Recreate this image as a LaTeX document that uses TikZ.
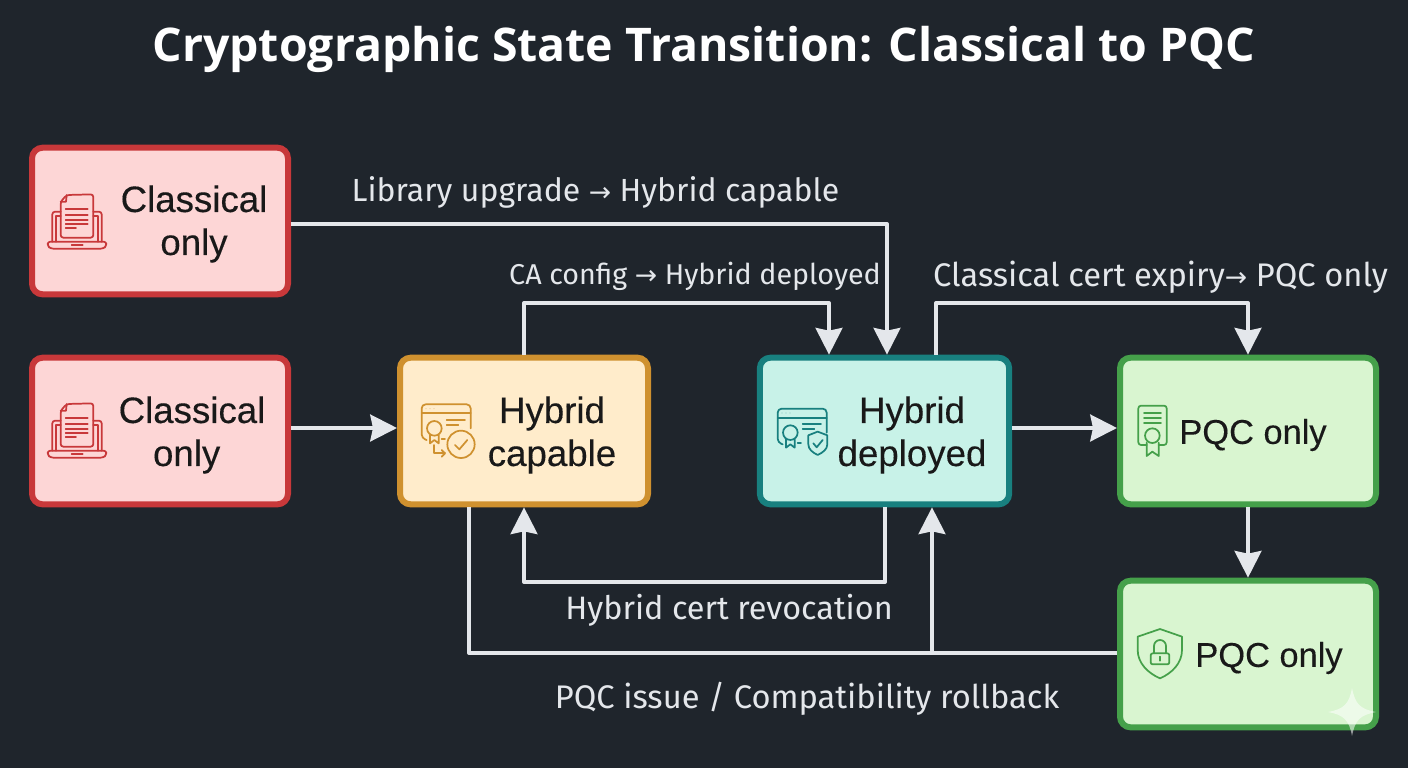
\documentclass[tikz,border=0pt]{standalone}
\usepackage{fontspec}
\setmainfont{Liberation Sans}[FakeBold=0.25]
\newfontfamily\labelfont{Fira Sans}
\newfontfamily\titlefont{Open Sans}
\newfontfamily\arrowfont{DejaVu Sans}
\newcommand{\toarr}{{\arrowfont\fontsize{20}{20}\selectfont →}}
\usetikzlibrary{arrows.meta}

\definecolor{pagebg}{HTML}{1F252C}
\definecolor{flowcol}{HTML}{E4E7EB}
\definecolor{redline}{HTML}{C8383A}
\definecolor{redfill}{HTML}{FDD6D6}
\definecolor{amberline}{HTML}{CF912F}
\definecolor{amberfill}{HTML}{FFECCB}
\definecolor{tealline}{HTML}{18807F}
\definecolor{tealfill}{HTML}{C8F2E8}
\definecolor{greenline}{HTML}{45A04A}
\definecolor{greenfill}{HTML}{D9F5D0}

\newcommand{\certwindow}{
  \draw[icon, rounded corners=3pt] (110,285) -- (95,280) -- (95,178) -- (242,178) -- (242,250);
  \draw[icon] (95,205) -- (242,205);
  \foreach \xx in {108,120,132}
    \fill (\xx,191) circle (0.9pt);
  \draw[icon] (170,225) -- (225,225);
  \draw[icon] (170,240) -- (205,240);
  \draw[icon] (133,250) circle (22);
  \draw[icon] (120,270) -- (120,295) -- (133,285) -- (146,295) -- (146,270);
  \draw[icon] (155,282) -- (165,282);
}

\tikzset{
  statebox/.style={draw, rectangle, rounded corners=8pt, line width=4.5pt, minimum height=110pt, text=black!90, font=\fontsize{27.5}{32.25}\selectfont, align=center},
  pqctext/.style={statebox, draw=none, font=\fontsize{25.8}{32.25}\selectfont},
  flow/.style={draw=flowcol, line width=3pt, line join=round},
  flowarr/.style={flow, -{Stealth[length=20pt,width=20pt,inset=2pt]}},
  edgelabel/.style={text=flowcol, font=\labelfont\fontsize{#1}{26}\selectfont},
  edgelabel/.default=24,
  icon/.style={line width=1.3pt, line join=round, line cap=round},
  doclaptop/.pic={
    % laptop
    \draw[icon, rounded corners=2pt] (83,305) -- (259,305) -- (259,318) -- (250,326) -- (92,326) -- (83,318) -- cycle;
    \draw[icon, rounded corners=2pt] (97,305) -- (97,215) -- (122,215);
    \draw[icon, rounded corners=2pt] (220,215) -- (245,215) -- (245,305);
    \draw[icon] (108,305) -- (108,228) -- (122,228);
    \draw[icon] (220,228) -- (234,228) -- (234,305);
    \draw[icon] (155,315) -- (188,315);
    % page
    \draw[icon, rounded corners=2pt] (122,185) -- (140,165) -- (220,163) -- (220,293) -- (122,293) -- cycle;
    \draw[icon] (140,165) -- (138,185) -- (122,185);
    \foreach \yy in {208,224,240,252}
      \draw[icon] (137,\yy) -- (203,\yy);
    \draw[icon] (137,264) -- (168,264);
  },
  capicon/.pic={
    \certwindow
    \draw[icon] (213,298) circle (41);
    \draw[icon] (195,300) -- (208,313) -- (232,285);
    \draw[icon] (133,300) -- (133,325) -- (165,325);
    \draw[icon] (155,315) -- (165,325) -- (155,335);
  },
  depicon/.pic={
    \certwindow
    \draw[icon] (215,247) -- (244,258) -- (244,285) .. controls (244,300) and (230,310) .. (215,317) .. controls (200,310) and (187,300) .. (187,285) -- (187,258) -- cycle;
    \draw[icon] (202,282) -- (212,294) -- (230,272);
  },
  scrollicon/.pic={
    \draw[icon, rounded corners=2pt] (110,300) -- (85,300) -- (85,182) -- (170,182) -- (170,300) -- (146,300);
    \foreach \yy in {203,218,233}
      \draw[icon] (102,\yy) -- (153,\yy);
    \draw[icon] (127,272) circle (22);
    \draw[icon] (110,293) -- (110,333) -- (127,320) -- (146,333) -- (146,293);
  },
  lockicon/.pic={
    \draw[icon] (150,177) -- (216,200) -- (216,240) .. controls (216,280) and (185,310) .. (150,325) .. controls (115,310) and (83,280) .. (83,240) -- (83,200) -- cycle;
    \draw[icon, rounded corners=1.5pt] (122,250) rectangle (178,283);
    \draw[icon] (132,250) -- (132,228) arc[start angle=180, end angle=360, radius=18] -- (168,250);
    \fill (150,260) circle (1.2pt);
    \draw[icon] (150,260) -- (150,272);
  }
}

\begin{document}
\begin{tikzpicture}[x=0.75pt,y=-0.75pt]
  \fill[pagebg] (0,0) rectangle (1408,768);

  % title
  \node[text=white, font=\titlefont\bfseries\fontsize{34.8}{40}\selectfont] (title) at (704,49) {Cryptographic State Transition: Classical to PQC};

  % states
  \node[statebox, draw=redline, fill=redfill, minimum width=192pt] (classA) at (160,221) {};
  \node[statebox, draw=redline, fill=redfill, minimum width=192pt] (classB) at (160,431) {};
  \node[statebox, draw=amberline, fill=amberfill, minimum width=186pt] (hybcap) at (524,431) {};
  \node[statebox, draw=tealline, fill=tealfill, minimum width=187pt] (hybdep) at (884.5,431) {};
  \node[statebox, draw=greenline, fill=greenfill, minimum width=192pt] (pqcA) at (1248,431) {};
  \node[statebox, draw=greenline, fill=greenfill, minimum width=192pt] (pqcB) at (1248,654) {};

  % state texts
  \node[statebox, draw=none] (classAtxt) at (194,224) {Classical\\only};
  \node[statebox, draw=none] (classBtxt) at (192,435) {Classical\\only\hspace*{8pt}};
  \node[statebox, draw=none] (hybcaptxt) at (552,435) {Hybrid\\capable};
  \node[statebox, draw=none] (hybdeptxt) at (912,435) {Hybrid\\deployed};
  \node[pqctext] (pqcAtxt) at (1253,435) {PQC only};
  \node[pqctext] (pqcBtxt) at (1269,658) {PQC only};

  % icons
  \pic[redline, scale=1/3] at (20,140) {doclaptop};
  \pic[redline, scale=1/3] at (20,349) {doclaptop};
  \pic[amberline, scale=1/3] at (390,345) {capicon};
  \pic[tealline, scale=1/3] at (746,349.3) {depicon};
  \pic[greenline, scale=1/3] at (1110,345) {scrollicon};
  \pic[greenline, scale=1/3] at (1110,570) {lockicon};

  % transitions
  \draw[flowarr] (classA.east |- 0,224) -| (hybdep.north -| 887,0);
  \draw[flowarr] (hybcap.north -| 524,0) |- (829,303) -- (hybdep.north -| 829,0);
  \draw[flowarr] (classB.east |- 0,428) -- (hybcap.west |- 0,428);
  \draw[flowarr] (hybdep.east |- 0,428) -- (pqcA.west |- 0,428);
  \draw[flowarr] (hybdep.north -| 936,0) |- (1248,303) -- (pqcA.north -| 1248,0);
  \draw[flowarr] (pqcA) -- (pqcB);
  \draw[flowarr] (hybdep.south -| 885,0) |- (524,582) -- (hybcap.south -| 524,0);
  \draw[flow] (pqcB.west |- 0,653) -| (hybcap.south -| 469,0);
  \draw[flowarr] (932,653) -- (hybdep.south -| 932,0);

  % transition labels
  \node[edgelabel] (lblupg) at (595.5,192) {Library upgrade \toarr{} Hybrid capable};
  \node[edgelabel=21.5] (lblca) at (695,276) {CA config \toarr{} Hybrid deployed};
  \node[edgelabel=24.5] (lblexp) at (1160.5,277) {Classical cert expiry\toarr{} PQC only};
  \node[edgelabel=24.3] (lblrev) at (729,610) {Hybrid cert revocation};
  \node[edgelabel=24.5] (lblroll) at (807,699) {PQC issue / Compatibility rollback};

  % sparkle
  \fill[white, opacity=0.55] (1352,688) .. controls (1355,704) and (1360,709) .. (1376,712) .. controls (1360,715) and (1355,720) .. (1352,736) .. controls (1349,720) and (1344,715) .. (1328,712) .. controls (1344,709) and (1349,704) .. (1352,688) -- cycle;
\end{tikzpicture}
\end{document}
